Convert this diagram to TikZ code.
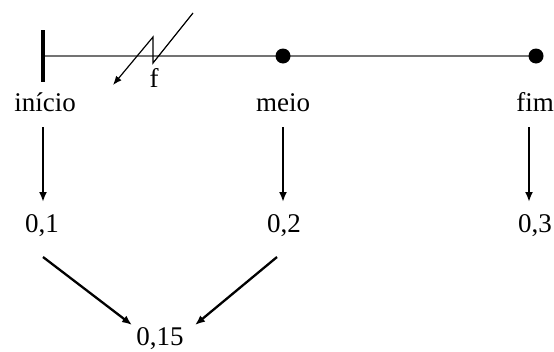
\documentclass[tikz,border=0pt]{standalone}
\usepackage{fontspec}
\setmainfont{Liberation Serif}
\usetikzlibrary{arrows.meta,calc}
\begin{document}
\begin{tikzpicture}[x=1pt,y=-1pt,
  lbl/.style={anchor=base,inner sep=0pt,font=\fontsize{27}{31}\selectfont},
  arr/.style={line width=2.3pt,-{Latex[length=10pt,width=8pt]}},
  dotn/.style={circle,fill=black,inner sep=0pt,minimum size=15pt},
  busline/.style={draw=black!55,line width=1.4pt}]
\useasboundingbox (0,0) rectangle (554,351);
% bus
\coordinate (bar) at (43,56);
\coordinate (c2) at (283,56);
\coordinate (c3) at (536,56);
\draw[busline] (bar) -- (c3);
\node[dotn] (d2) at (c2) {};
\node[dotn] (d3) at (c3) {};
\draw[line width=3.2pt] ($(bar)+(0,-26)$) -- ($(bar)+(0,26)$);
% fault
\coordinate (ft) at (193,13);
\draw[line width=1.2pt,-{Latex[length=9pt,width=7pt]}] (ft) -- (153,63) -- (153,37) -- (113,85);
\node[lbl] (f) at (154,87) {f};
% labels
\node[lbl] (ini) at (45,111) {início};
\node[lbl] (mei) at (283,111) {meio};
\node[lbl] (fim) at (535,111) {fim};
\node[lbl] (v1) at (42,232) {0,1};
\node[lbl] (v2) at (284,232) {0,2};
\node[lbl] (v3) at (535,232) {0,3};
\node[lbl] (res) at (160,345) {0,15};
% arrows
\draw[arr] ($(ini.base)+(-2,16)$) -- ($(v1.base)+(1,-30)$);
\draw[arr] ($(mei.base)+(0,16)$) -- ($(v2.base)+(-1,-30)$);
\draw[arr] ($(fim.base)+(-6,16)$) -- ($(v3.base)+(-6,-30)$);
\draw[arr] ($(v1.base)+(1,25)$) -- ($(res.base)+(-28,-20)$);
\draw[arr] ($(v2.base)+(-7,25)$) -- ($(res.base)+(35,-20)$);
\end{tikzpicture}
\end{document}
